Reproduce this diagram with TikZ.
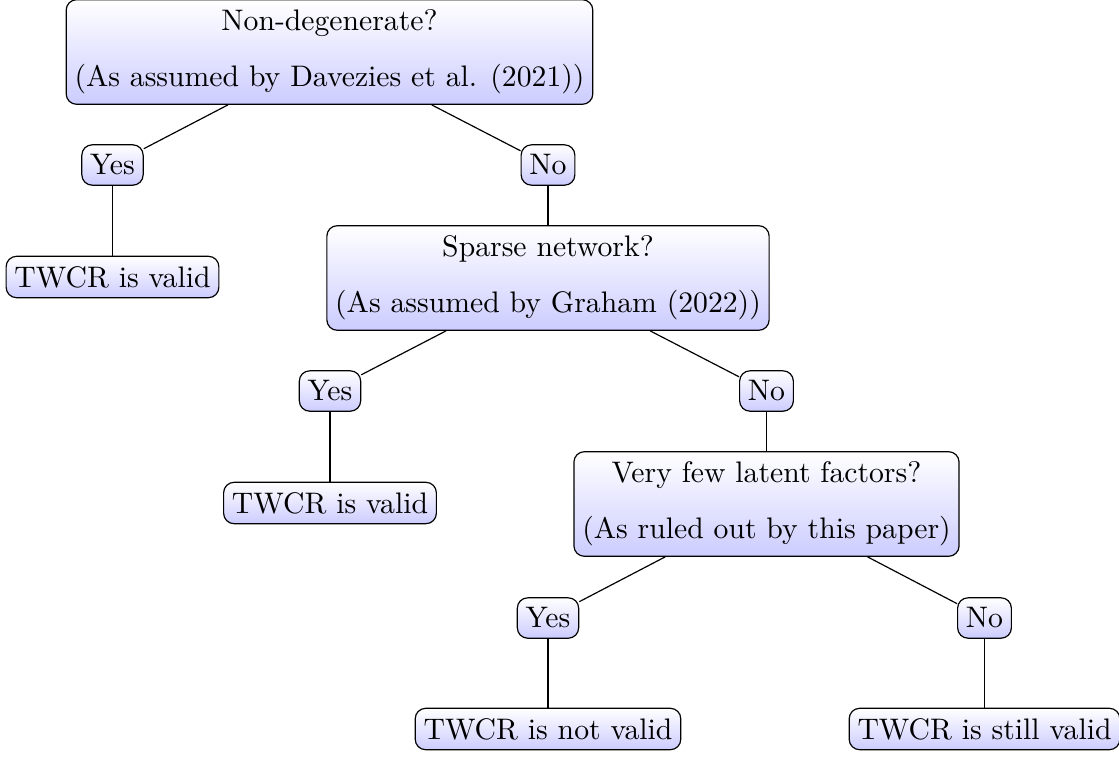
\documentclass[tikz,border=0pt]{standalone}
\begin{document}
\begin{tikzpicture}[x=0.3367pt,y=-0.3367pt,
  box/.style={draw, rounded corners=3.5pt, top color=white, bottom color=blue!20, align=center, inner ysep=3.33pt, inner xsep=2.8pt},
  conn/.style={draw, line width=0.4pt}]
\useasboundingbox (0,0) rectangle (1119,757);
\node[box] (root) at (329.5,52) {Non-degenerate?\\[7pt](As assumed by Davezies et al. (2021))};
\node[box] (y1) at (112.5,165) {Yes};
\node[box] (n1) at (548,165) {No};
\node[box] (v1) at (112.5,277) {TWCR is valid};
\node[box] (sp) at (548,278) {Sparse network?\\[7pt](As assumed by Graham (2022))};
\node[box] (y2) at (330,391) {Yes};
\node[box] (n2) at (766.5,391) {No};
\node[box] (v2) at (330,503) {TWCR is valid};
\node[box] (vf) at (766.5,504) {Very few latent factors?\\[7pt](As ruled out by this paper)};
\node[box] (y3) at (548,618) {Yes};
\node[box] (n3) at (984.5,618) {No};
\node[box] (v3) at (548,729) {TWCR is not valid};
\node[box] (v4) at (984.5,729) {TWCR is still valid};
\draw[conn] (root) -- (y1);
\draw[conn] (root) -- (n1);
\draw[conn] (y1) -- (v1);
\draw[conn] (n1) -- (sp);
\draw[conn] (sp) -- (y2);
\draw[conn] (sp) -- (n2);
\draw[conn] (y2) -- (v2);
\draw[conn] (n2) -- (vf);
\draw[conn] (vf) -- (y3);
\draw[conn] (vf) -- (n3);
\draw[conn] (y3) -- (v3);
\draw[conn] (n3) -- (v4);
\end{tikzpicture}
\end{document}
